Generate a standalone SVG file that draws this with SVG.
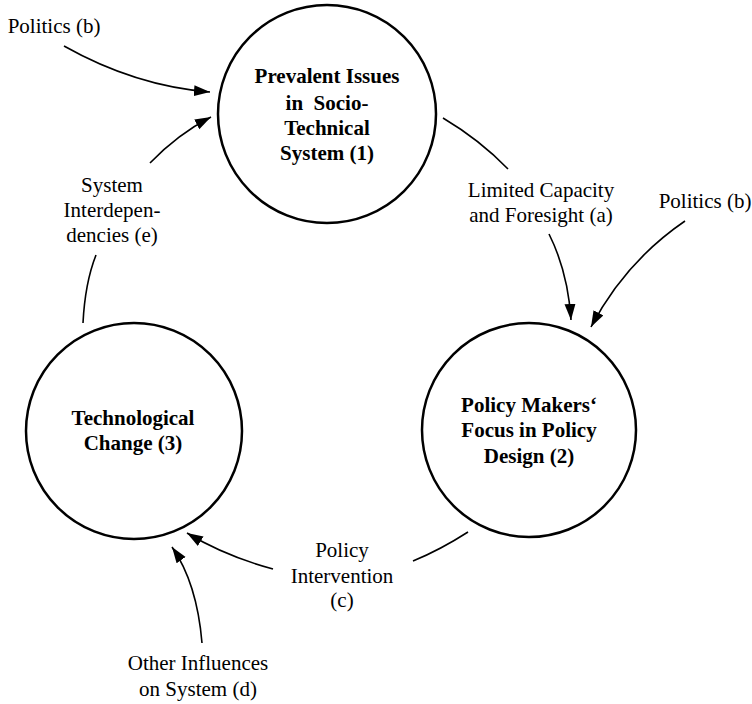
<svg xmlns="http://www.w3.org/2000/svg" width="752" height="704" viewBox="0 0 752 704">
<defs>
<style>
.node circle{fill:#fff;stroke:#000;stroke-width:2.5}
.bt{font-family:"Liberation Serif","Times New Roman",serif;font-weight:bold;font-size:21px;text-anchor:middle;fill:#000}
.lt{font-family:"Liberation Serif","Times New Roman",serif;font-size:21px;text-anchor:middle;fill:#000}
.c{fill:none;stroke:#000;stroke-width:1.6}
.a{marker-end:url(#ah)}
</style>
<marker id="ah" markerUnits="userSpaceOnUse" markerWidth="18" markerHeight="12" refX="16" refY="5.5" orient="auto">
<path d="M0,0 L16,5.5 L0,11 z" fill="#000"/>
</marker>
</defs>
<rect width="752" height="704" fill="#fff"/>
<g id="n1" class="node">
<circle cx="327" cy="114" r="109"/>
<text class="bt" x="327" y="83">Prevalent Issues</text>
<text class="bt" x="327" y="110" xml:space="preserve">in  Socio-</text>
<text class="bt" x="327" y="135">Technical</text>
<text class="bt" x="327" y="160">System (1)</text>
</g>
<g id="n2" class="node">
<circle cx="529" cy="430" r="107"/>
<text class="bt" x="529" y="412">Policy Makers‘</text>
<text class="bt" x="529" y="437">Focus in Policy</text>
<text class="bt" x="529" y="463">Design (2)</text>
</g>
<g id="n3" class="node">
<circle cx="134" cy="431" r="108"/>
<text class="bt" x="133" y="425">Technological</text>
<text class="bt" x="133" y="450">Change (3)</text>
</g>
<g id="labels">
<text class="lt" x="54" y="33">Politics (b)</text>
<text class="lt" x="541" y="197">Limited Capacity</text>
<text class="lt" x="541" y="222">and Foresight (a)</text>
<text class="lt" x="705" y="208">Politics (b)</text>
<text class="lt" x="112" y="192">System</text>
<text class="lt" x="112" y="217">Interdepen-</text>
<text class="lt" x="112" y="242">dencies (e)</text>
<text class="lt" x="342" y="557">Policy</text>
<text class="lt" x="342" y="583">Intervention</text>
<text class="lt" x="342" y="607">(c)</text>
<text class="lt" x="198" y="670">Other Influences</text>
<text class="lt" x="198" y="696">on System (d)</text>
</g>
<g id="connectors">
<path class="c a" d="M64,46 Q135,86 210,92"/>
<path class="c a" d="M150,163 Q178,134 211,117"/>
<path class="c" d="M83,323 Q85,283 96,255"/>
<path class="c" d="M443,118 Q480,140 508,169"/>
<path class="c a" d="M549,234 Q568,272 571,320"/>
<path class="c a" d="M685,221 Q625,262 591,327"/>
<path class="c" d="M468,532 Q440,550 413,561"/>
<path class="c a" d="M273,569 Q225,556 187,533"/>
<path class="c a" d="M202,643 Q197,583 172,547"/>
</g>
</svg>
